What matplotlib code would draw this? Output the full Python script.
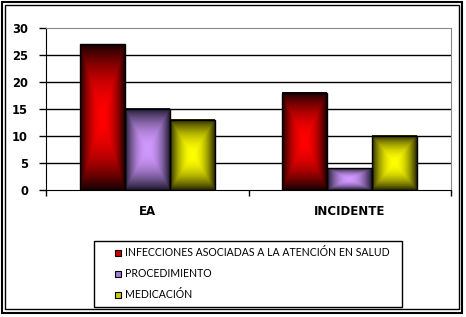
import numpy as np
import matplotlib.pyplot as plt
from matplotlib.patches import Rectangle
from matplotlib.lines import Line2D

# datos
categorias = ['EA', 'INCIDENTE']
series = ['INFECCIONES ASOCIADAS A LA ATENCIÓN EN SALUD', 'PROCEDIMIENTO', 'MEDICACIÓN']
infecciones = [27, 18]
procedimiento = [15, 4]
medicacion = [13, 10]
valores = [infecciones, procedimiento, medicacion]

# colores (centro del degradado, borde oscuro, marcador de leyenda)
centros = [(1.0, 0.0, 0.0), (0.82, 0.60, 1.0), (1.0, 1.0, 0.0)]
bordes = [(0.10, 0.0, 0.0), (0.12, 0.10, 0.18), (0.16, 0.16, 0.0)]
marcas = ['#cc0000', '#a080d0', '#cccc00']

W, H = 466, 317
fig = plt.figure(figsize=(W / 100, H / 100), dpi=100)
ax = fig.add_axes([46 / W, 1 - 190 / H, (451 - 46) / W, (190 - 28) / H])

# degradado rectangular desde el centro
def degradado(c0, c1, n=100):
    u = np.linspace(-1, 1, n)
    U, V = np.meshgrid(u, u)
    t = np.maximum(np.abs(U), np.abs(V)) ** 2
    c0 = np.array(c0)
    c1 = np.array(c1)
    return c0 * (1 - t[..., None]) + c1 * t[..., None]

ancho = 0.222
x = np.arange(len(categorias))
for i, vals in enumerate(valores):
    barras = ax.bar(x + (i - 1) * ancho, vals, ancho, facecolor='none',
                    edgecolor='black', linewidth=1.0, zorder=4)
    img = degradado(centros[i], bordes[i])
    for b in barras:
        ax.imshow(img, extent=(b.get_x(), b.get_x() + b.get_width(), 0, b.get_height()),
                  aspect='auto', interpolation='bilinear', zorder=3)

ax.set_xlim(-0.5, 1.5)
ax.set_ylim(0, 30)
ax.set_yticks(range(0, 31, 5))
for yv in range(5, 30, 5):
    ax.axhline(yv, color='black', linewidth=1.0, zorder=1)

ax.set_xticks([-0.5, 0.5, 1.5])
ax.set_xticklabels([])
ax.set_xticks(x, minor=True)
ax.set_xticklabels(categorias, minor=True, fontsize=8.5, fontweight='bold')
ax.tick_params(axis='x', which='minor', length=0, pad=11)
ax.tick_params(axis='x', which='major', length=4, width=1, direction='out')
ax.tick_params(axis='y', length=5, width=1, pad=8, labelsize=8.3)
for lab in ax.get_yticklabels():
    lab.set_fontweight('bold')

ax.spines['top'].set_color('#888888')
ax.spines['right'].set_color('#888888')
ax.spines['left'].set_color('black')
ax.spines['bottom'].set_color('black')

# leyenda
manijas = [Line2D([], [], marker='s', linestyle='none', markersize=4.5,
                  markerfacecolor=marcas[i], markeredgecolor='black', markeredgewidth=0.8)
           for i in range(3)]
fig.legend(manijas, series, loc='upper left', bbox_to_anchor=(110 / W, 1 - 242 / H),
           frameon=False, prop={'family': 'Lato', 'size': 7.6},
           handlelength=0.6, handletextpad=0.3, labelspacing=0.95, borderpad=0)
fig.patches.append(Rectangle((94 / W, 1 - 307 / H), (402 - 94) / W, (307 - 241) / H,
                             transform=fig.transFigure, fill=False, edgecolor='black', linewidth=1.0))

# bordes del gráfico
fig.patches.append(Rectangle((1.5 / W, 1 - 313 / H), (462 - 1.5) / W, (313 - 1.5) / H,
                             transform=fig.transFigure, fill=False, edgecolor='black', linewidth=1.5))
fig.patches.append(Rectangle((5 / W, 1 - 309 / H), (459 - 5) / W, (309 - 4.5) / H,
                             transform=fig.transFigure, fill=False, edgecolor='black', linewidth=1.0))

fig.savefig('out.png', dpi=100)
